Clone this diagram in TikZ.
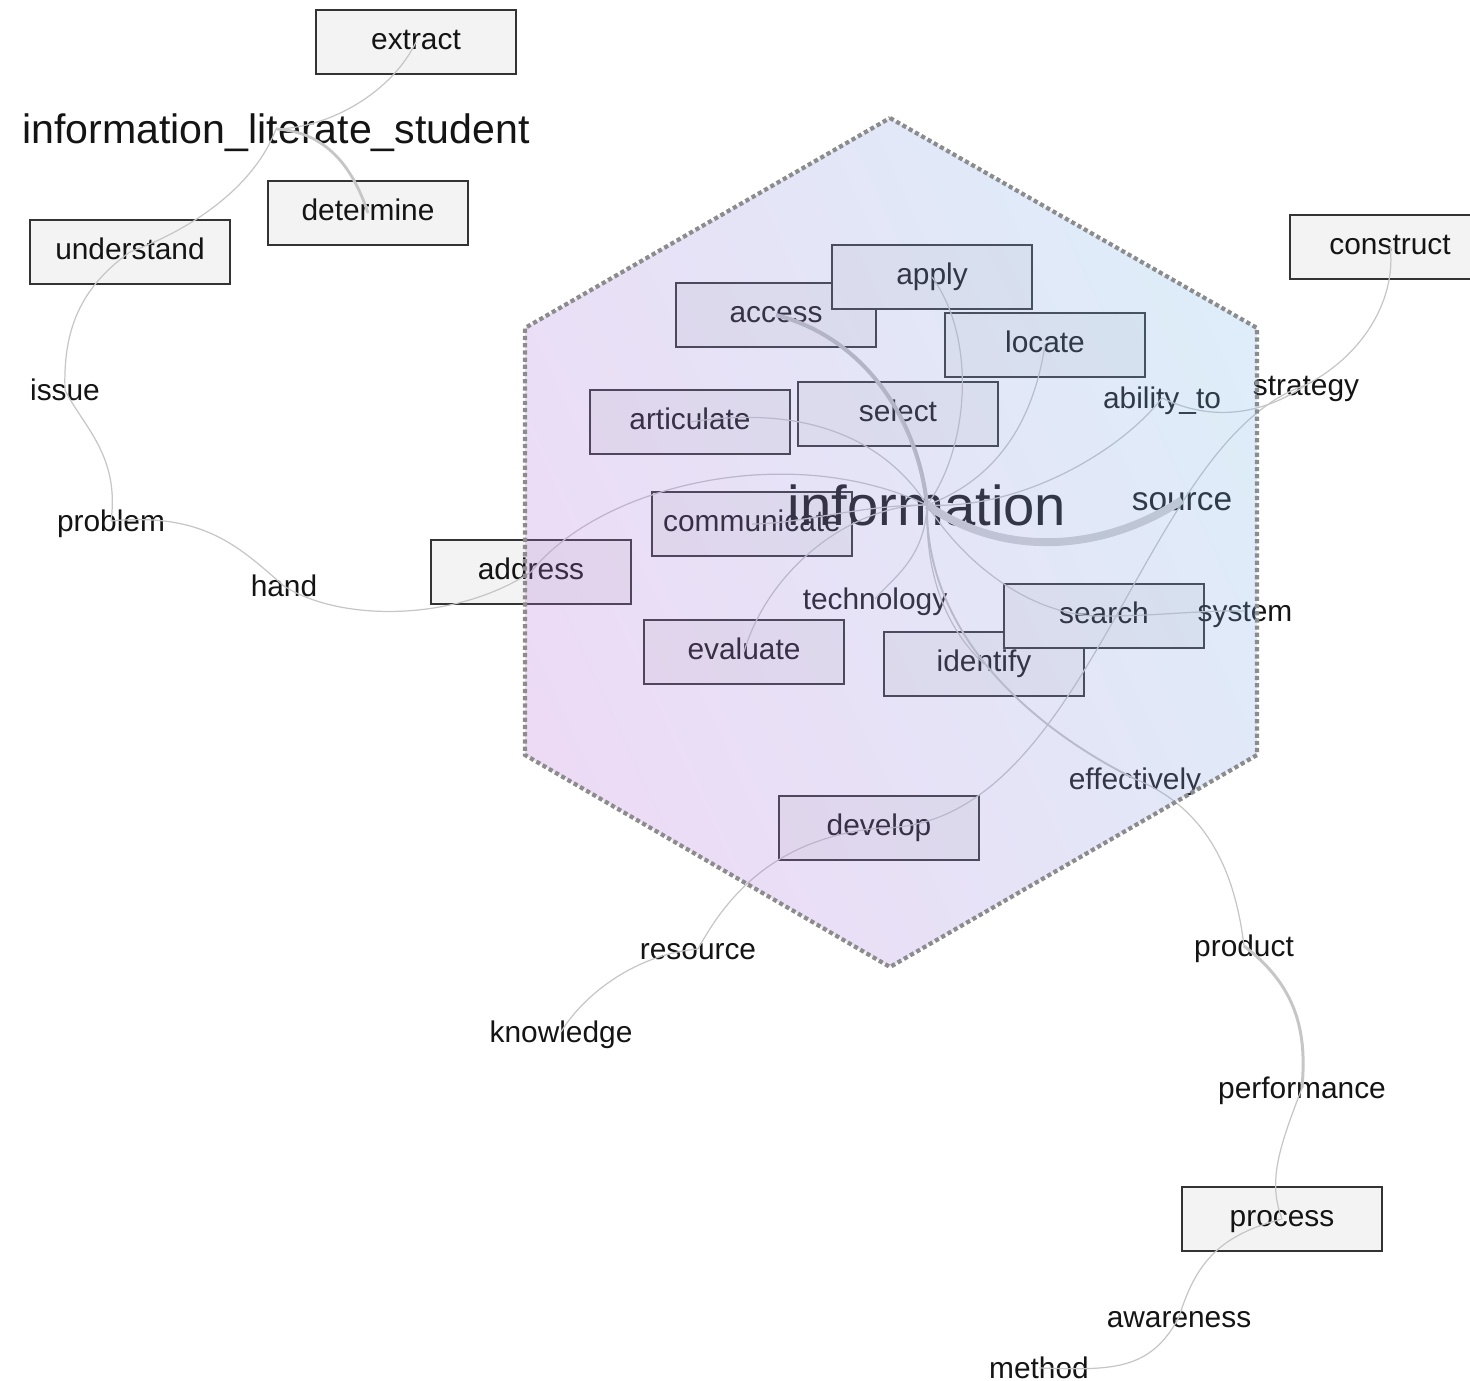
\documentclass[tikz,border=0pt]{standalone}
\usepackage{fontspec}
\setmainfont{Liberation Sans}
\definecolor{boxgray}{RGB}{243,243,243}
\definecolor{linkgray}{RGB}{198,198,198}
\definecolor{hexpink}{RGB}{182,112,216}
\definecolor{hexblue}{RGB}{122,182,230}
\definecolor{dotgray}{RGB}{140,140,140}

\begin{document}
\begin{tikzpicture}[x=0.02cm,y=-0.02cm,
  word/.style={font=\fontsize{17}{20}\selectfont, text=black!92, inner sep=0pt, text height=14.5pt, text depth=2.1pt},
  term/.style={word, text height=12.5pt, text depth=3.5pt, draw=black!80, line width=0.8pt, fill=boxgray, minimum width=4cm, minimum height=1.28cm},
  link/.style={linkgray, line width=0.7pt},
  heavy/.style={link, line width=#1},
  hexagon/.style={dotgray, line width=2.4pt, dash pattern=on 2.4pt off 1.7pt}]
\useasboundingbox (0,0) rectangle (1470,1381);

% boxed terms
\node[term] (extract) at (416,42) {extract};
\node[term] (determine) at (368,213) {determine};
\node[term] (understand) at (130,252) {understand};
\node[term] (construct) at (1390,247) {construct};
\node[term] (access) at (776,315) {access};
\node[term] (apply) at (932,277) {apply};
\node[term] (locate) at (1045,345) {locate};
\node[term] (articulate) at (690,422) {articulate};
\node[term] (select) at (898,414) {select};
\node[term] (communicate) at (752,524) {communicate};
\node[term] (address) at (531,572) {address};
\node[term] (evaluate) at (744,652) {evaluate};
\node[term] (identify) at (984,664) {identify};
\node[term] (search) at (1104,616) {search};
\node[term] (develop) at (879,828) {develop};
\node[term] (process) at (1282,1219) {process};

% plain terms
\node[word, font=\fontsize{23.4}{28}\selectfont, text height=19pt, text depth=2.4pt] (ils) at (276,129) {information\_literate\_student};
\node[word, font=\fontsize{32}{38}\selectfont, text height=23pt, text depth=0pt] (info) at (927,505) {information};
\node[word, font=\fontsize{19}{23}\selectfont] (source) at (1182,500) {source};
\node[word] (issue) at (65,390) {issue};
\node[word] (problem) at (111,521) {problem};
\node[word] (hand) at (284,586) {hand};
\node[word] (abilityto) at (1162,398) {ability\_to};
\node[word] (strategy) at (1306,385) {strategy};
\node[word] (system) at (1245,611) {system};
\node[word] (technology) at (875,599) {technology};
\node[word] (effectively) at (1135,779) {effectively};
\node[word] (resource) at (698,949) {resource};
\node[word] (knowledge) at (561,1032) {knowledge};
\node[word] (product) at (1244,946) {product};
\node[word] (performance) at (1302,1088) {performance};
\node[word] (awareness) at (1179,1317) {awareness};
\node[word, text height=12.4pt, text depth=0pt] (method) at (1039,1368) {method};

% links
\draw[link] (ils.center) .. controls (330,128) and (392,92) .. (extract.center);
\draw[link] (ils.center) .. controls (255,185) and (195,228) .. (understand.center);
\draw[heavy=1.6pt] (ils.center) .. controls (325,132) and (352,165) .. (determine.center);
\draw[link] (understand.center) .. controls (80,288) and (63,330) .. (issue.center);
\draw[link] (issue.center) .. controls (82,425) and (120,455) .. (problem.center);
\draw[link] (problem.center) .. controls (205,512) and (240,548) .. (hand.center);
\draw[link] (hand.center) .. controls (340,622) and (455,622) .. (address.center);
\draw[link] (address.center) .. controls (600,485) and (790,440) .. (info.center);
\draw[heavy=2.3pt, black!25] (access.center) .. controls (865,338) and (918,420) .. (info.center);
\draw[link] (apply.center) .. controls (978,340) and (968,450) .. (info.center);
\draw[link] (locate.center) .. controls (1032,430) and (990,482) .. (info.center);
\draw[link] (select.center) .. controls (912,440) and (925,480) .. (info.center);
\draw[link] (articulate.center) .. controls (820,402) and (892,450) .. (info.center);
\draw[link] (abilityto.center) .. controls (1120,452) and (1020,510) .. (info.center);
\draw[link] (abilityto.center) .. controls (1212,422) and (1262,415) .. (strategy.center);
\draw[link] (strategy.center) .. controls (1372,350) and (1396,290) .. (construct.center);
\draw[heavy=4.5pt, black!18] (info.center) .. controls (1010,562) and (1110,548) .. (source.center);
\draw[link] (strategy.center) .. controls (1140,440) and (1090,830) .. (develop.center);
\draw[link] (info.center) .. controls (970,572) and (1040,618) .. (search.center);
\draw[link] (search.center) .. controls (1160,616) and (1200,610) .. (system.center);
\draw[link] (info.center) .. controls (925,560) and (890,580) .. (technology.center);
\draw[link] (info.center) .. controls (850,505) and (768,570) .. (evaluate.center);
\draw[link] (info.center) .. controls (860,505) and (800,524) .. (communicate.center);
\draw[link] (info.center) .. controls (925,582) and (950,632) .. (identify.center);
\draw[heavy=1.1pt] (info.center) .. controls (925,640) and (1040,732) .. (effectively.center);
\draw[link] (effectively.center) .. controls (1212,810) and (1236,880) .. (product.center);
\draw[heavy=1.7pt] (product.center) .. controls (1302,990) and (1306,1040) .. (performance.center);
\draw[link] (performance.center) .. controls (1278,1150) and (1268,1182) .. (process.center);
\draw[link] (process.center) .. controls (1220,1235) and (1196,1262) .. (awareness.center);
\draw[link] (awareness.center) .. controls (1150,1372) and (1110,1370) .. (method.center);
\draw[link] (develop.center) .. controls (780,838) and (730,890) .. (resource.center);
\draw[link] (resource.center) .. controls (630,955) and (580,1000) .. (knowledge.center);

% hexagon overlay
\shade[left color=hexpink, right color=hexblue, shading angle=115, fill opacity=0.25]
  (890,118) -- (1257,328) -- (1257,755) -- (890,967) -- (525,755) -- (525,328) -- cycle;
\draw[hexagon] (890,118) -- (1257,328) -- (1257,755) -- (890,967) -- (525,755) -- (525,328) -- cycle;
\end{tikzpicture}
\end{document}
